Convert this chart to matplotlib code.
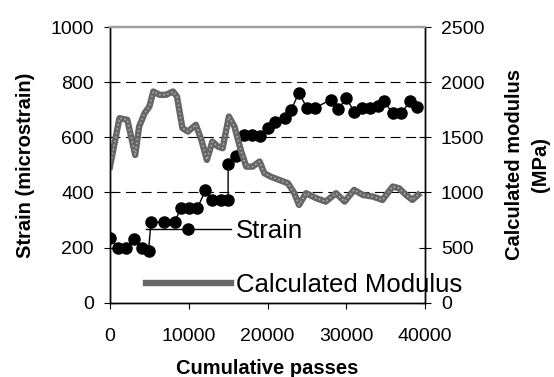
import matplotlib
matplotlib.use("Agg")
import matplotlib.pyplot as plt
from matplotlib.lines import Line2D

plt.rcParams["font.family"] = ["Liberation Sans", "DejaVu Sans"]

# strain readings (microstrain) vs cumulative passes
strain_passes = [0, 1000, 2000, 3000, 4000, 4900, 5200, 6900, 8200, 9000, 10000,
                 11100, 12100, 13000, 14100, 15000, 15000, 16000, 17000, 18000,
                 19000, 20000, 21000, 22200, 23000, 24000, 25000, 26000, 28000,
                 29000, 30000, 31000, 32000, 33000, 34000, 34800, 35900, 37000,
                 38100, 39000]
strain = [234, 197, 197, 230, 197, 189, 292, 292, 292, 343, 343,
          343, 407, 373, 373, 373, 502, 533, 609, 609,
          603, 633, 657, 669, 699, 762, 706, 706, 736,
          702, 742, 693, 706, 706, 714, 730, 688, 688,
          730, 709]

# calculated modulus (MPa) vs cumulative passes
mod_passes = [0, 1200, 2200, 3200, 3700, 4400, 5000, 5500, 6300, 7100, 8000,
              8500, 9200, 9900, 10900, 11600, 12300, 13000, 13700, 14300,
              15100, 15800, 16600, 17300, 18100, 19000, 19600, 20400, 21500,
              22600, 23400, 24000, 24900, 26200, 27400, 28700, 29800, 31000,
              32100, 33400, 34600, 35900, 36700, 37600, 38400, 39100]
modulus = [1234, 1673, 1658, 1340, 1597, 1719, 1779, 1915, 1885, 1885, 1915,
           1870, 1583, 1552, 1613, 1477, 1295, 1461, 1416, 1401,
           1688, 1597, 1386, 1234, 1234, 1280, 1174, 1143, 1113,
           1083, 993, 887, 993, 947, 917, 993, 917, 1023,
           977, 962, 932, 1053, 1038, 977, 932, 977]

GREY = "#666666"

fig = plt.figure(figsize=(5.54, 3.77), dpi=100)
ax = fig.add_axes([110 / 554, 1 - 302.7 / 377, 315 / 554, 275.7 / 377])
ax2 = ax.twinx()

ax.plot(strain_passes, strain, color="black", lw=1.0, marker="o", ms=8,
        mec="black", mfc="black", zorder=3)
ax2.plot(mod_passes, modulus, color=GREY, lw=4.6, solid_joinstyle="round")
ax2.plot(mod_passes, modulus, color="#a8a8a8", lw=1.2, ls=(0, (1, 1.5)))

for yv in (400, 600, 800):
    ax.axhline(yv, color="black", lw=0.8, ls=(0, (9, 5)), zorder=0)

ax.set_xlim(0, 40000)
ax.set_ylim(0, 1000)
ax2.set_ylim(0, 2500)
ax.set_xticks([0, 10000, 20000, 30000, 40000])
ax.set_yticks([0, 200, 400, 600, 800, 1000])
ax2.set_yticks([0, 500, 1000, 1500, 2000, 2500])

for a in (ax, ax2):
    a.spines["top"].set_color("#a0a0a0")
    a.spines["top"].set_linewidth(1.6)
    for s in ("left", "right", "bottom"):
        a.spines[s].set_linewidth(1.0)
ax.tick_params(axis="y", direction="inout", length=9, labelsize=14, pad=7)
ax2.tick_params(axis="y", direction="inout", length=9, labelsize=14, pad=7)
ax.tick_params(axis="x", direction="out", length=4, labelsize=14, pad=14)

ax.set_ylabel("Strain (microstrain)", fontsize=14.5, weight="bold", labelpad=11)
ax2.set_ylabel("Calculated modulus\n(MPa)", fontsize=14.5, weight="bold",
               labelpad=15, linespacing=1.45)
ax.set_xlabel("Cumulative passes", fontsize=14.5, weight="bold", labelpad=10)

handles = [Line2D([], [], color="black", lw=1.0, marker="o", ms=8),
           Line2D([], [], color=GREY, lw=4.6)]
ax2.legend(handles, ["Strain", "Calculated Modulus"], loc="center left",
           bbox_to_anchor=(146 / 554, 1 - 258 / 377),
           bbox_transform=fig.transFigure, frameon=False, fontsize=18.5,
           handlelength=3.3, handletextpad=0.2, labelspacing=1.15,
           borderpad=0, borderaxespad=0, markerscale=1)

fig.savefig("out.png", dpi=100, facecolor="white")
